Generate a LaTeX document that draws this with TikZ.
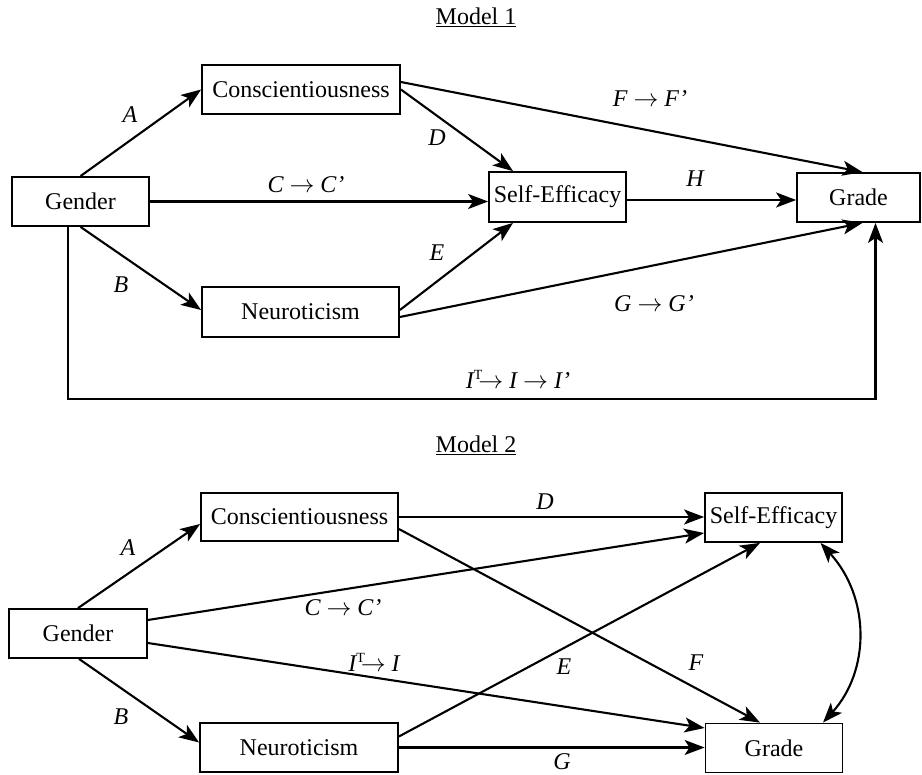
\documentclass[tikz,border=0pt]{standalone}
\usepackage{fontspec}
\setmainfont{Liberation Serif}
\usetikzlibrary{arrows.meta,calc}
\newcommand{\supT}{\raisebox{9pt}{\upshape\fontsize{14}{14}\selectfont T}}
\begin{document}
\begin{tikzpicture}[x=1pt,y=-1pt,
  box/.style={draw, line width=1.8pt, inner sep=0pt, font=\fontsize{24}{28}\selectfont},
  lab/.style={inner sep=0pt, font=\fontsize{24}{28}\selectfont\itshape},
  ttl/.style={inner sep=0pt, anchor=base, font=\fontsize{24}{28}\selectfont},
  arr/.style={line width=2.1pt, -{Stealth[length=20pt,width=15pt,inset=5pt]}},
  dbl/.style={line width=2.1pt, {Stealth[length=20pt,width=15pt,inset=5pt]}-{Stealth[length=20pt,width=15pt,inset=5pt]}}]
\useasboundingbox (0,0) rectangle (922,775);

% ---------- Model 1 ----------
\node[ttl] (t1) at (476,25) {\underline{Model 1}};
\node[box, minimum width=137pt, minimum height=49pt] (gen1) at (80.5,201.5) {Gender};
\node[box, minimum width=198pt, minimum height=49pt] (con1) at (301,89.5) {Conscientiousness};
\node[box, minimum width=137pt, minimum height=50pt] (se1) at (557.5,197) {Self-Efficacy};
\node[box, minimum width=123pt, minimum height=49pt] (gr1) at (858.5,197.5) {Grade};
\node[box, minimum width=197pt, minimum height=50pt] (neu1) at (300.5,312) {Neuroticism};

\draw[arr] (gen1.north) -- (con1.west);
\draw[arr] ([yshift=7.5pt]con1.east) -- ([xshift=4pt]gr1.north);
\draw[arr] (con1.east) -- ([xshift=-44.5pt]se1.north);
\draw[arr] (gen1.east) -- (gen1.east -| se1.west);
\draw[arr] ([yshift=-3pt]se1.east) -- ([yshift=-3pt]se1.east -| gr1.west);
\draw[arr] (gen1.south) -- ([yshift=2pt]neu1.west);
\draw[arr] ([yshift=2pt]neu1.east) -- ([xshift=-44.5pt]se1.south);
\draw[arr] ([yshift=-5pt]neu1.east) -- ([xshift=4pt]gr1.south);
\draw[arr] ([xshift=-12.5pt]gen1.south) -- ++(0,172) -| ([xshift=17pt]gr1.south);

\node[lab] (la1) at (130,115) {A};
\node[lab] (ld1) at (437,138) {D};
\node[lab] (lc1) at (306,185) {C $\rightarrow$ C’};
\node[lab] (lf1) at (650,99) {F $\rightarrow$ F’};
\node[lab] (lh1) at (695,179) {H};
\node[lab] (le1) at (437,253) {E};
\node[lab] (lb1) at (121,285) {B};
\node[lab] (lg1) at (654,304) {G $\rightarrow$ G’};
\node[lab] (li1) at (518,379) {I\supT$\!\rightarrow$ I $\rightarrow$ I’};

% ---------- Model 2 ----------
\node[ttl] (t2) at (476,453) {\underline{Model 2}};
\node[box, minimum width=138pt, minimum height=49pt] (gen2) at (78,633.5) {Gender};
\node[box, minimum width=197pt, minimum height=48pt] (con2) at (299.5,517) {Conscientiousness};
\node[box, minimum width=137pt, minimum height=49pt] (se2) at (773.5,517.5) {Self-Efficacy};
\node[box, minimum width=198pt, minimum height=49pt] (neu2) at (299,747.5) {Neuroticism};
\node[box, minimum width=137pt, minimum height=49pt] (gr2) at (774,748) {Grade};

\draw[arr] (gen2.north) -- ([yshift=-7pt]con2.west);
\draw[arr] (con2.east) -- (con2.east -| se2.west);
\draw[arr] ([yshift=13.5pt]gen2.east) -- ([yshift=-15.5pt]se2.west);
\draw[arr] ([yshift=-12pt]con2.east) -- ([xshift=-14pt]gr2.north);
\draw[arr] ([yshift=-9.5pt]gen2.east) -- ([yshift=20pt]gr2.west);
\draw[arr] ([xshift=1pt]gen2.south) -- ([yshift=5pt]neu2.west);
\draw[arr] ([yshift=11pt]neu2.east) -- ([xshift=-13.5pt]se2.south);
\draw[arr] (neu2.east) -- (neu2.east -| gr2.west);
\draw[dbl] ([xshift=47pt]se2.south) .. controls +(50,55) and +(47,-52) .. ([xshift=49pt]gr2.north);

\node[lab] (la2) at (128,548) {A};
\node[lab] (ld2) at (545,502) {D};
\node[lab] (lc2) at (343,608) {C $\rightarrow$ C’};
\node[lab] (li2) at (374,662) {I\supT$\!\rightarrow$ I};
\node[lab] (le2) at (564,667) {E};
\node[lab] (lf2) at (696,663) {F};
\node[lab] (lb2) at (121,717) {B};
\node[lab] (lg2) at (562,762) {G};
\end{tikzpicture}
\end{document}
